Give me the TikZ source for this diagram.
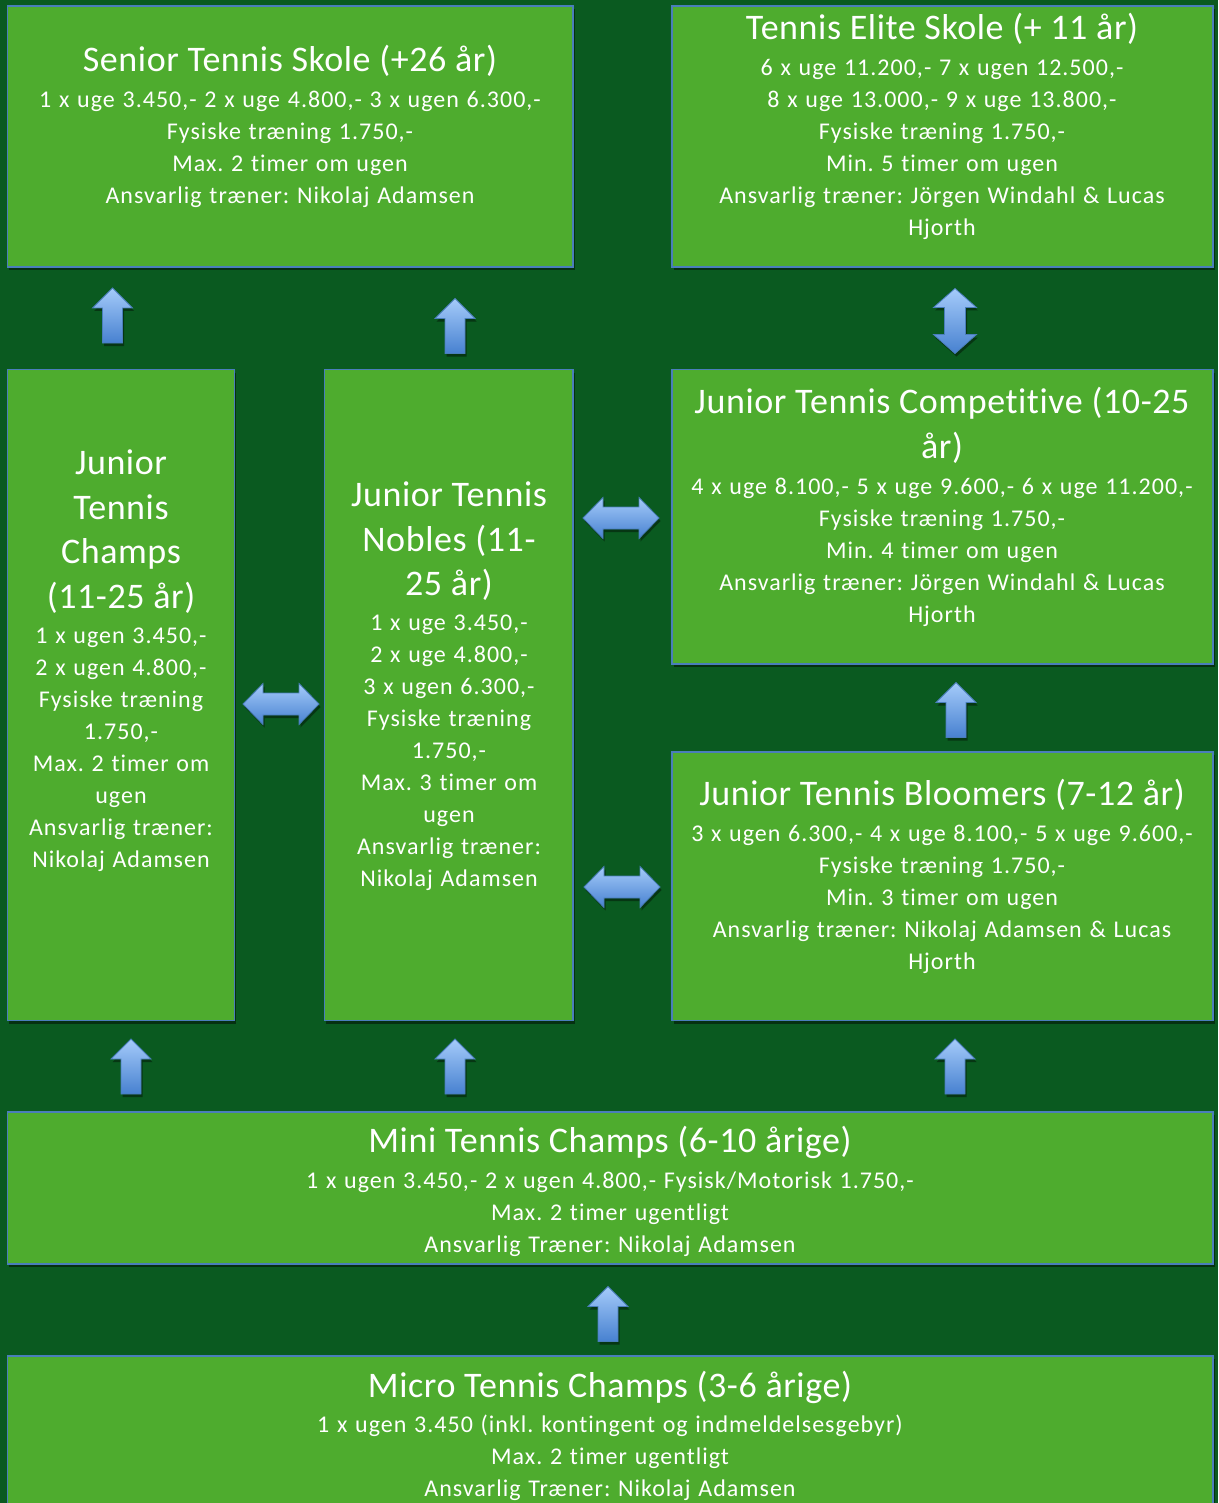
\documentclass[tikz,border=0pt]{standalone}
\usepackage{fontspec}
\setmainfont{Carlito}[Ligatures=NoCommon]
\newfontfamily\titlefont{Carlito}[LetterSpace=1.6, Ligatures=NoCommon]
\newfontfamily\bodyfont{Carlito}[LetterSpace=4.2, WordSpace=1.2, Ligatures=NoCommon]
\frenchspacing
\usetikzlibrary{shadows,fit}
\definecolor{bg}{HTML}{0A5A20}
\definecolor{boxfill}{HTML}{4EAC2E}
\definecolor{boxline}{HTML}{4A7EBB}
\definecolor{arrtop}{HTML}{A5CBFA}
\definecolor{arrbot}{HTML}{4781D0}
\definecolor{arrline}{HTML}{4A7EBB}
\newcommand{\mylines}[1]{\begin{tabular}[t]{@{}c@{}}#1\end{tabular}}
\tikzset{
  box/.style={draw=boxline, line width=1.5pt, fill=boxfill, inner sep=0pt,
    drop shadow={opacity=0.45, shadow xshift=1.5pt, shadow yshift=-3pt, fill=black}},
  ttlnode/.style={anchor=base, inner sep=0pt, text=white, font=\titlefont\fontsize{36}{44.5}\selectfont\frenchspacing},
  bdynode/.style={anchor=base, inner sep=0pt, text=white, font=\bodyfont\fontsize{24}{32}\selectfont\frenchspacing},
  blockarrow/.style={draw=arrline, line width=0.8pt, top color=arrtop, bottom color=arrbot,
    drop shadow={opacity=0.4, shadow xshift=1.5pt, shadow yshift=-3pt, fill=black}},
  uparr/.pic={\path[blockarrow] (0,-27.5) -- (20,-7.5) -- (10,-7.5) -- (10,27.5) -- (-10,27.5) -- (-10,-7.5) -- (-20,-7.5) -- cycle;},
  vdbl/.pic={\path[blockarrow] (0,-32.5) -- (21.5,-13.5) -- (10.5,-13.5) -- (10.5,13.5) -- (21.5,13.5) -- (0,32.5) -- (-21.5,13.5) -- (-10.5,13.5) -- (-10.5,-13.5) -- (-21.5,-13.5) -- cycle;},
  hdbl/.pic={\path[blockarrow] (-38,0) -- (-18,-20.5) -- (-18,-11) -- (18,-11) -- (18,-20.5) -- (38,0) -- (18,20.5) -- (18,11) -- (-18,11) -- (-18,20.5) -- cycle;},
}
\begin{document}
\begin{tikzpicture}[x=1pt,y=-1pt]
\useasboundingbox (0,0) rectangle (1218,1503);
\fill[bg] (0,0) rectangle (1218,1503);

% boxes
\node[box, fit={(7.5,6) (573,267)}] (senior) {};
\node[box, fit={(672,6) (1213,267)}] (elite) {};
\node[box, fit={(7.5,369.5) (234.5,1020.5)}] (champs) {};
\node[box, fit={(324.5,369.5) (573,1020.5)}] (nobles) {};
\node[box, fit={(672,369.5) (1213,664)}] (compet) {};
\node[box, fit={(672,752) (1213,1020.5)}] (bloom) {};
\node[box, fit={(7.5,1112) (1213,1264)}] (mini) {};
\node[box, fit={(7.5,1356) (1213,1530)}] (micro) {};

% arrows
\pic at (112.5,315.5) {uparr};
\pic at (455,326) {uparr};
\pic at (955,321) {vdbl};
\pic at (621,518) {hdbl};
\pic at (281,704) {hdbl};
\pic at (622,887) {hdbl};
\pic at (956,710) {uparr};
\pic at (131,1066.5) {uparr};
\pic at (455,1066.5) {uparr};
\pic at (955,1066.5) {uparr};
\pic at (608,1314) {uparr};

% texts
\node[ttlnode] (seniort) at (290,71.7) {\mylines{Senior Tennis Skole (+26 år)}};
\node[bdynode] (seniorb) at (290,107.3) {\mylines{1 x uge 3.450,- 2 x uge 4.800,- 3 x ugen 6.300,-\\Fysiske træning 1.750,-\\Max. 2 timer om ugen\\Ansvarlig træner: Nikolaj Adamsen}};

\node[ttlnode] (elitet) at (942,39.7) {\mylines{Tennis Elite Skole (+ 11 år)}};
\node[bdynode] (eliteb) at (942,75.3) {\mylines{6 x uge 11.200,- 7 x ugen 12.500,-\\8 x uge 13.000,- 9 x uge 13.800,-\\Fysiske træning 1.750,-\\Min. 5 timer om ugen\\Ansvarlig træner: Jörgen Windahl \& Lucas\\Hjorth}};

\node[ttlnode] (champst) at (121,474.7) {\mylines{Junior\\Tennis\\Champs\\(11-25 år)}};
\node[bdynode] (champsb) at (121,643.3) {\mylines{1 x ugen 3.450,-\\2 x ugen 4.800,-\\Fysiske træning\\1.750,-\\Max. 2 timer om\\ugen\\Ansvarlig træner:\\Nikolaj Adamsen}};

\node[ttlnode] (noblest) at (449,506.7) {\mylines{Junior Tennis\\Nobles (11-\\25 år)}};
\node[bdynode] (noblesb) at (449,630.3) {\mylines{1 x uge 3.450,-\\2 x uge 4.800,-\\3 x ugen 6.300,-\\Fysiske træning\\1.750,-\\Max. 3 timer om\\ugen\\Ansvarlig træner:\\Nikolaj Adamsen}};

\node[ttlnode] (compett) at (942,413.7) {\mylines{Junior Tennis Competitive (10-25\\år)}};
\node[bdynode] (competb) at (942,494.3) {\mylines{4 x uge 8.100,- 5 x uge 9.600,- 6 x uge 11.200,-\\Fysiske træning 1.750,-\\Min. 4 timer om ugen\\Ansvarlig træner: Jörgen Windahl \& Lucas\\Hjorth}};

\node[ttlnode] (bloomt) at (942,805.7) {\mylines{Junior Tennis Bloomers (7-12 år)}};
\node[bdynode] (bloomb) at (942,841.3) {\mylines{3 x ugen 6.300,- 4 x uge 8.100,- 5 x uge 9.600,-\\Fysiske træning 1.750,-\\Min. 3 timer om ugen\\Ansvarlig træner: Nikolaj Adamsen \& Lucas\\Hjorth}};

\node[ttlnode] (minit) at (610,1152.7) {\mylines{Mini Tennis Champs (6-10 årige)}};
\node[bdynode] (minib) at (610,1188.3) {\mylines{1 x ugen 3.450,- 2 x ugen 4.800,- Fysisk/Motorisk 1.750,-\\Max. 2 timer ugentligt\\Ansvarlig Træner: Nikolaj Adamsen}};

\node[ttlnode] (microt) at (610,1397.7) {\mylines{Micro Tennis Champs (3-6 årige)}};
\node[bdynode] (microb) at (610,1432.3) {\mylines{1 x ugen 3.450 (inkl. kontingent og indmeldelsesgebyr)\\Max. 2 timer ugentligt\\Ansvarlig Træner: Nikolaj Adamsen}};
\end{tikzpicture}
\end{document}
